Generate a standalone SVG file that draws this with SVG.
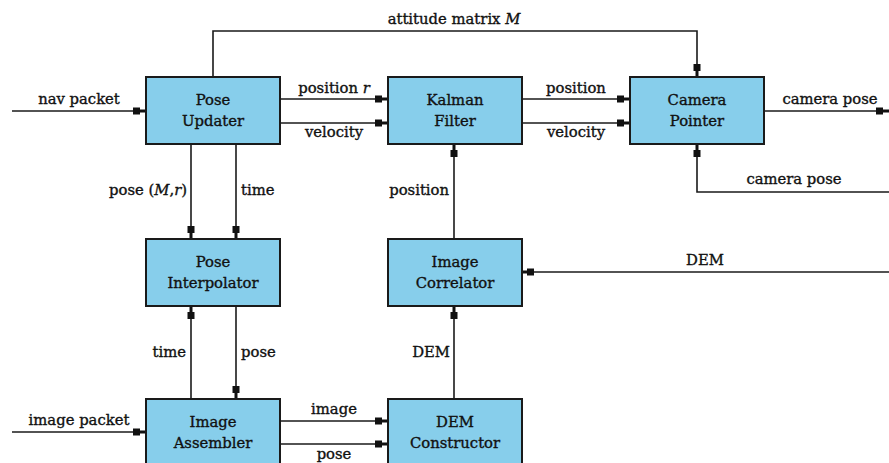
<svg xmlns="http://www.w3.org/2000/svg" width="889" height="463" viewBox="0 0 889 463">
<style>
.box{fill:#87CEEB;stroke:#1a1a1a;stroke-width:2}
.ln{fill:none;stroke:#1a1a1a;stroke-width:1.6;marker-end:url(#sq)}
text{font-family:'DejaVu Serif',serif;font-size:14.8px;fill:#111;stroke:#111;stroke-width:0.35}
.c{text-anchor:middle}
.e{text-anchor:end}
</style>
<defs>
<marker id="sq" markerUnits="userSpaceOnUse" markerWidth="14" markerHeight="10" viewBox="0 0 14 10" refX="13" refY="5" orient="auto">
<rect x="0" y="1.5" width="7" height="7" fill="#111"/>
<rect x="6" y="3.5" width="7" height="3" fill="#111"/>
</marker>
</defs>
<g id="connectors">
<path class="ln" d="M12,111 H146"/>
<path class="ln" d="M213,77 V31 H697 V77"/>
<path class="ln" d="M280,99 H388"/>
<path class="ln" d="M280,123 H388"/>
<path class="ln" d="M522,99 H630"/>
<path class="ln" d="M522,123 H630"/>
<path class="ln" d="M764,111 H889"/>
<path class="ln" d="M889,192 H697 V144"/>
<path class="ln" d="M191,144 V239"/>
<path class="ln" d="M236,144 V239"/>
<path class="ln" d="M454,239 V144"/>
<path class="ln" d="M889,272 H521"/>
<path class="ln" d="M191,399 V306"/>
<path class="ln" d="M236,306 V399"/>
<path class="ln" d="M454,399 V306"/>
<path class="ln" d="M12,432 H146"/>
<path class="ln" d="M280,421 H388"/>
<path class="ln" d="M280,444 H388"/>
<text class="c" x="454" y="24">attitude matrix <tspan font-style="italic">M</tspan></text>
<text class="c" x="79" y="104">nav packet</text>
<text class="c" x="334" y="93">position <tspan font-style="italic">r</tspan></text>
<text class="c" x="334" y="137">velocity</text>
<text class="c" x="576" y="93">position</text>
<text class="c" x="576" y="137">velocity</text>
<text class="c" x="830" y="104">camera pose</text>
<text class="c" x="794" y="184">camera pose</text>
<text class="e" x="187" y="195">pose (<tspan font-style="italic">M</tspan>,<tspan font-style="italic">r</tspan>)</text>
<text x="241" y="195">time</text>
<text class="e" x="449" y="195">position</text>
<text class="c" x="705" y="265">DEM</text>
<text class="e" x="186" y="357">time</text>
<text x="241" y="357">pose</text>
<text class="e" x="450" y="357">DEM</text>
<text class="c" x="79" y="425">image packet</text>
<text class="c" x="334" y="414">image</text>
<text class="c" x="334" y="459">pose</text>
</g>
<g id="pose-updater">
<rect class="box" x="146" y="77" width="134" height="67"/>
<text class="c" x="213" y="105">Pose</text>
<text class="c" x="213" y="126">Updater</text>
</g>
<g id="kalman-filter">
<rect class="box" x="388" y="77" width="134" height="67"/>
<text class="c" x="455" y="105">Kalman</text>
<text class="c" x="455" y="126">Filter</text>
</g>
<g id="camera-pointer">
<rect class="box" x="630" y="77" width="134" height="67"/>
<text class="c" x="697" y="105">Camera</text>
<text class="c" x="697" y="126">Pointer</text>
</g>
<g id="pose-interpolator">
<rect class="box" x="146" y="239" width="134" height="67"/>
<text class="c" x="213" y="267">Pose</text>
<text class="c" x="213" y="288">Interpolator</text>
</g>
<g id="image-correlator">
<rect class="box" x="388" y="239" width="134" height="67"/>
<text class="c" x="455" y="267">Image</text>
<text class="c" x="455" y="288">Correlator</text>
</g>
<g id="image-assembler">
<rect class="box" x="146" y="399" width="134" height="67"/>
<text class="c" x="213" y="427">Image</text>
<text class="c" x="213" y="448">Assembler</text>
</g>
<g id="dem-constructor">
<rect class="box" x="388" y="399" width="134" height="67"/>
<text class="c" x="455" y="427">DEM</text>
<text class="c" x="455" y="448">Constructor</text>
</g>
</svg>
